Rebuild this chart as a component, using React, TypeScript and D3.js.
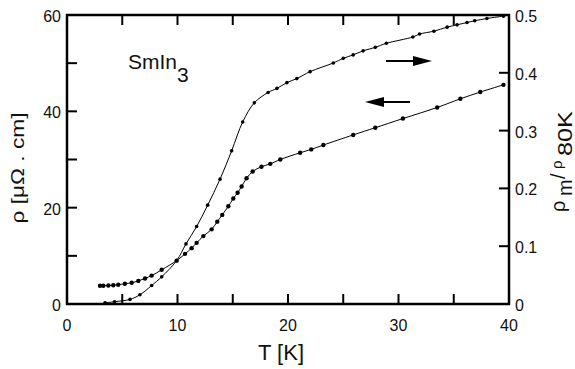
import React from "react";
import * as d3 from "d3";

// rho (left axis, µΩ cm)
const rhoT = [2.99, 3.29, 3.74, 4.19, 4.64, 5.24, 5.85, 6.45, 7.06, 7.66, 8.57, 9.92, 10.68, 11.28, 11.73, 12.34, 13.09, 13.6, 14.05, 14.6, 15.05, 15.44, 15.8, 16.25, 16.8, 17.6, 18.4, 19.3, 21.1, 22.1, 23.2, 25.9, 27.9, 30.4, 33.5, 35.6, 37.4, 39.5];
const rhoV = [3.8, 3.8, 3.85, 3.9, 4.0, 4.2, 4.4, 4.8, 5.3, 5.9, 7.1, 9.0, 10.4, 11.6, 12.7, 14.1, 15.5, 17.1, 18.5, 20.3, 21.9, 23.1, 24.4, 26.1, 27.5, 28.5, 29.1, 30.0, 31.4, 32.1, 33.0, 35.1, 36.6, 38.5, 40.8, 42.6, 44.0, 45.5];

// rho_m / rho_80K (right axis)
const magT = [3.44, 4.3, 5.7, 6.6, 7.66, 8.57, 9.92, 10.77, 11.73, 12.73, 13.85, 14.9, 15.9, 16.95, 18.2, 19.0, 19.9, 20.8, 22.0, 24.1, 25.0, 25.9, 26.8, 27.9, 28.9, 31.3, 31.9, 33.2, 34.4, 35.3, 36.2, 36.9, 38.0, 39.5];
const magV = [0.002, 0.004, 0.008, 0.016, 0.032, 0.047, 0.075, 0.104, 0.134, 0.171, 0.216, 0.265, 0.315, 0.348, 0.366, 0.373, 0.383, 0.39, 0.402, 0.417, 0.425, 0.431, 0.438, 0.444, 0.451, 0.462, 0.467, 0.472, 0.479, 0.483, 0.487, 0.49, 0.494, 0.498];

const xTicks = [0, 10, 20, 30, 40];
const xMinor = [5, 15, 25, 35];
const yLeftTicks = [0, 20, 40, 60];
const yLeftMinor = [10, 30, 50];
const yRightTicks = [0, 0.1, 0.2, 0.3, 0.4, 0.5];

export default function App() {
  const W = 575, H = 369;
  const L = 67, R = 509, T = 15, B = 304;
  const x = d3.scaleLinear().domain([0, 40]).range([L, R]);
  const yl = d3.scaleLinear().domain([0, 60]).range([B, T]);
  const yr = d3.scaleLinear().domain([0, 0.5]).range([B, T]);

  const rhoPts = rhoT.map((t, i) => [t, rhoV[i]] as [number, number]);
  const magPts = magT.map((t, i) => [t, magV[i]] as [number, number]);
  const lineL = d3.line<[number, number]>().x(d => x(d[0])).y(d => yl(d[1])).curve(d3.curveCatmullRom);
  const lineR = d3.line<[number, number]>().x(d => x(d[0])).y(d => yr(d[1])).curve(d3.curveCatmullRom);

  const font = "'Liberation Sans', Arial, sans-serif";
  const tk = 10;
  const allX = [...xTicks, ...xMinor].filter(v => v > 0 && v < 40);
  const tc = "#111";

  return (
    <svg width={W} height={H} style={{ position: "absolute", left: 0, top: 0 }} fontFamily={font}>
      <rect x={0} y={0} width={W} height={H} fill="#fff" />
      {/* ticks */}
      {allX.map(v => (
        <g key={"xt" + v}>
          <line x1={x(v)} x2={x(v)} y1={B} y2={B - tk} stroke="#000" strokeWidth={2} />
          <line x1={x(v)} x2={x(v)} y1={T} y2={T + tk} stroke="#000" strokeWidth={2} />
        </g>
      ))}
      {[...yLeftTicks, ...yLeftMinor].filter(v => v > 0 && v < 60).map(v => (
        <line key={"yl" + v} x1={L} x2={L + tk} y1={yl(v)} y2={yl(v)} stroke="#000" strokeWidth={2} />
      ))}
      {yRightTicks.filter(v => v > 0 && v < 0.5).map(v => (
        <line key={"yr" + v} x1={R} x2={R - tk} y1={yr(v)} y2={yr(v)} stroke="#000" strokeWidth={2} />
      ))}
      <rect x={L} y={T} width={R - L} height={B - T} fill="none" stroke="#000" strokeWidth={2.5} />
      {/* tick labels */}
      {xTicks.map(v => (
        <text key={"xl" + v} x={x(v)} y={B + 27} fontSize={16} textAnchor="middle" fill={tc}>{v}</text>
      ))}
      {yLeftTicks.map(v => (
        <text key={"yll" + v} x={L - 6} y={yl(v) + 7} fontSize={16} textAnchor="end" fill={tc}>{v}</text>
      ))}
      {yRightTicks.map(v => (
        <text key={"yrl" + v} x={R + 6} y={yr(v) + 7} fontSize={16} textAnchor="start" fill={tc}>{v === 0 ? "0" : v.toFixed(1)}</text>
      ))}
      {/* axis titles */}
      <text x={281} y={360} fontSize={22} textAnchor="middle" fill={tc}>T [K]</text>
      <text transform={`translate(24,168) rotate(-90)`} fontSize={19} textAnchor="middle" fill={tc} textLength={111} lengthAdjust="spacingAndGlyphs">ρ [μΩ . cm]</text>
      <g transform="rotate(-90)" fill={tc}>
        <text x={-212} y={565} fontSize={20}>ρ</text>
        <text x={-196} y={572} fontSize={20}>m</text>
        <text x={-179} y={565} fontSize={20}>/</text>
        <text x={-169} y={562} fontSize={15}>ρ</text>
        <text x={-156} y={572} fontSize={21} textLength={45} lengthAdjust="spacingAndGlyphs">80K</text>
      </g>
      {/* curves */}
      <path d={lineL(rhoPts) || ""} fill="none" stroke="#000" strokeWidth={1} />
      <path d={lineR(magPts) || ""} fill="none" stroke="#000" strokeWidth={1} />
      {rhoPts.map((d, i) => <circle key={"rp" + i} cx={x(d[0])} cy={yl(d[1])} r={2.2} fill="#000" />)}
      {magPts.map((d, i) => <circle key={"mp" + i} cx={x(d[0])} cy={yr(d[1])} r={1.8} fill="#000" />)}
      {/* annotation */}
      <text x={128} y={69} fontSize={21} fill={tc}>SmIn<tspan dy={13}>3</tspan></text>
      {/* arrows */}
      <line x1={386} x2={416} y1={61} y2={61} stroke="#000" strokeWidth={2} />
      <path d="M432,61 L413,56 L413,66 Z" fill="#000" />
      <line x1={380} x2={410} y1={102} y2={102} stroke="#000" strokeWidth={2} />
      <path d="M365,102 L384,97 L384,107 Z" fill="#000" />
    </svg>
  );
}
